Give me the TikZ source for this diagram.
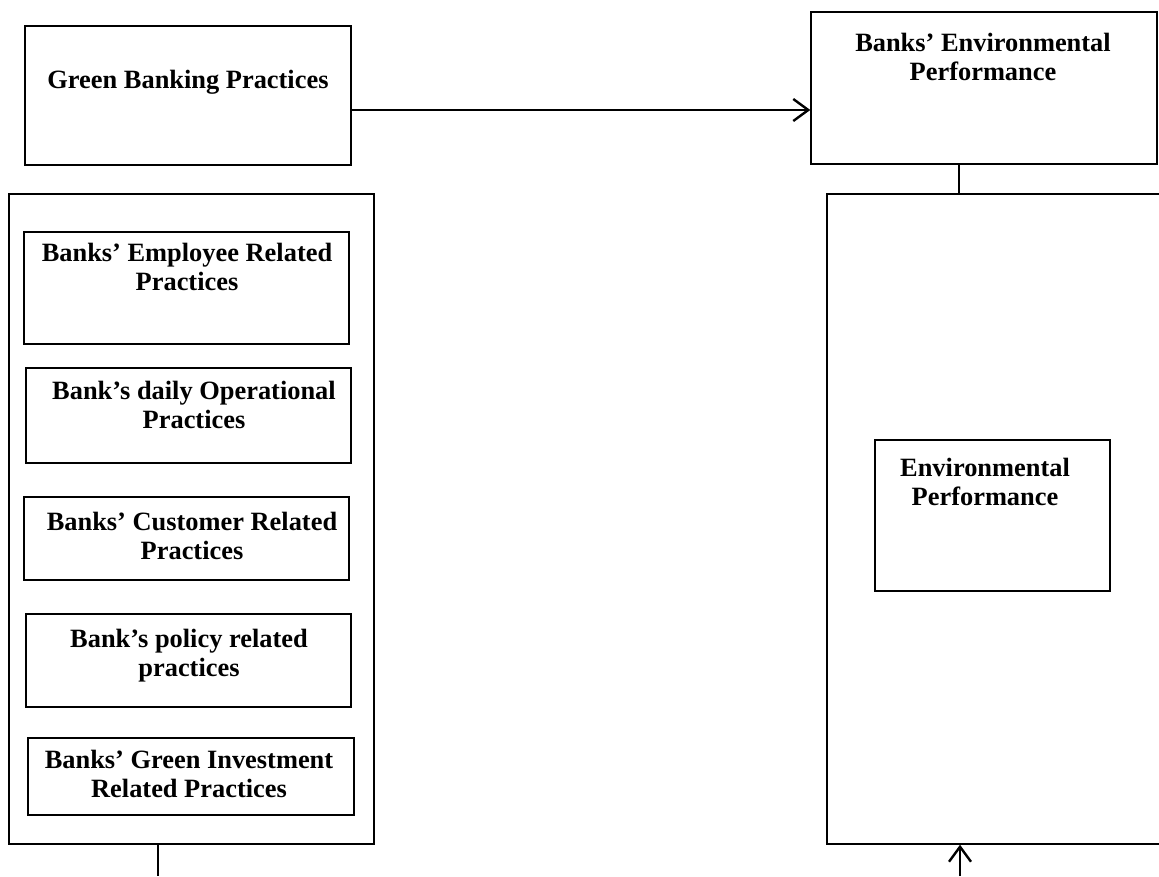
\documentclass[tikz,border=0pt]{standalone}
\usepackage{fontspec}
\setmainfont{Liberation Serif}
\usetikzlibrary{arrows.meta}
\begin{document}
\begin{tikzpicture}[x=1pt,y=-1pt,
  box/.style={draw=black, line width=1.4pt, inner sep=0pt, fill=none},
  lbl/.style={align=center, inner sep=0pt, font=\bfseries\fontsize{26.4}{29}\selectfont},
  arr/.style={line width=2.6pt, -{Straight Barb[length=15pt,width=22pt,line width=2.4pt]}},
  lnk/.style={line width=1.4pt}]
\useasboundingbox (0,0) rectangle (1159,876);
\clip (0,0) rectangle (1159,876);
% outer boxes
\node[box, minimum width=326pt, minimum height=139pt] (gbp) at (188,95.5) {};
\node[box, minimum width=346pt, minimum height=152pt] (bep) at (984,88) {};
\node[box, minimum width=365pt, minimum height=650pt] (lbig) at (191.5,519) {};
\node[box, minimum width=340pt, minimum height=650pt] (rbig) at (997,519) {};
% inner boxes
\node[box, minimum width=325pt, minimum height=112pt] (e1) at (186.5,288) {};
\node[box, minimum width=325pt, minimum height=95pt] (e2) at (188.5,415.5) {};
\node[box, minimum width=325pt, minimum height=83pt] (e3) at (186.5,538.5) {};
\node[box, minimum width=325pt, minimum height=93pt] (e4) at (188.5,660.5) {};
\node[box, minimum width=326pt, minimum height=77pt] (e5) at (191,776.5) {};
\node[box, minimum width=235pt, minimum height=151pt] (env) at (992.5,515.5) {};
% texts
\node[lbl] (tgbp) at (188,82) {Green Banking Practices};
\node[lbl] (tbep) at (983,57) {Banks’ Environmental\\Performance};
\node[lbl] (t1) at (187,267) {Banks’ Employee Related\\Practices};
\node[lbl] (t2) at (194,405) {Bank’s daily Operational\\Practices};
\node[lbl] (t3) at (192,536) {Banks’ Customer Related\\Practices};
\node[lbl] (t4) at (189,656) {Bank’s policy related\\practices};
\node[lbl] (t5) at (189,774) {Banks’ Green Investment\\Related Practices};
\node[lbl] (tenv) at (985,482) {Environmental\\Performance};
% connectors
\coordinate (a1) at (351,110);
\draw[arr] (a1) -- (a1 -| bep.west);
\coordinate (c1) at (959,164);
\draw[lnk] (c1 |- bep.south) -- (c1 |- rbig.north);
\coordinate (lstem) at (158,876);
\draw[lnk] (lstem |- lbig.south) -- (lstem);
\coordinate (rstem) at (960,876);
\draw[arr, line width=1.6pt] (rstem) -- (rstem |- rbig.south);
\end{tikzpicture}
\end{document}
